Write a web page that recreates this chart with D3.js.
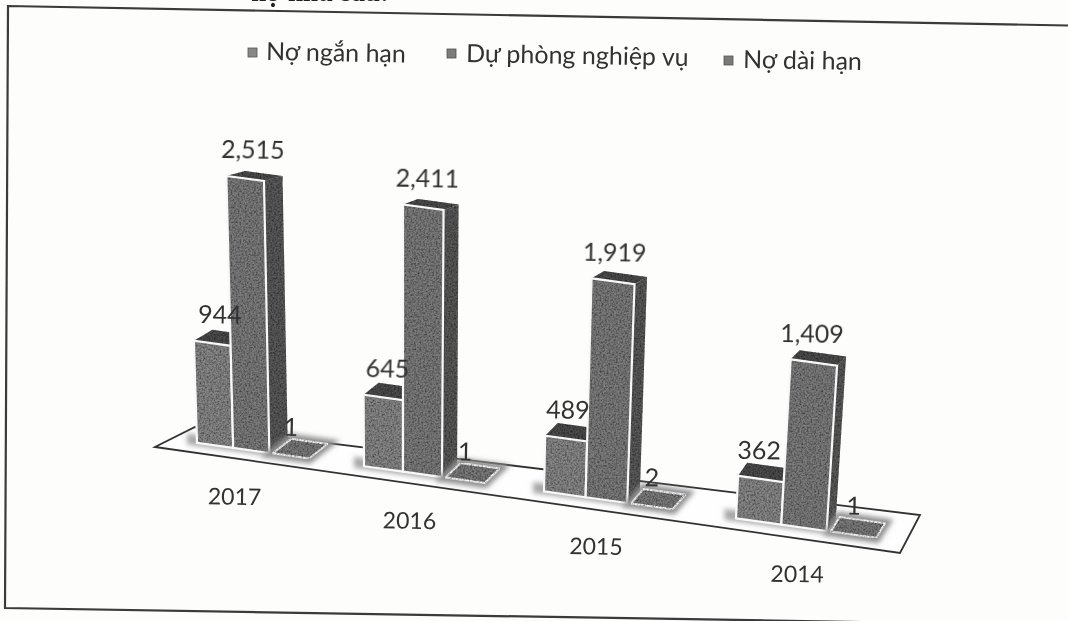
<!DOCTYPE html>
<html lang="vi">
<head>
<meta charset="utf-8">
<title>Nợ</title>
<script src="https://cdn.jsdelivr.net/npm/d3@7"></script>
<style>
  html, body { margin: 0; padding: 0; background: #fdfdfc; overflow: hidden; }
  text { font-family: Lato, "Open Sans", sans-serif; fill: #333; }
</style>
</head>
<body>
<div id="chart"></div>
<script>
// values
const years = ["2017", "2016", "2015", "2014"];
const seriesNames = ["Nợ ngắn hạn", "Dự phòng nghiệp vụ", "Nợ dài hạn"];
const shortTerm = [944, 645, 489, 362];
const reserves = [2515, 2411, 1919, 1409];
const longTerm = [1, 1, 2, 1];
const seriesValues = [shortTerm, reserves, longTerm];
const seriesColors = ["#878787", "#7b7b7b", "#7a7a7a"];

const width = 1068, height = 621;

const svg = d3.select("#chart").append("svg")
    .attr("width", width)
    .attr("height", height);

// ------------------ FILTERS ------------------
const defs = svg.append("defs");

const grain = defs.append("filter").attr("id", "grain")
    .attr("x", "0").attr("y", "0").attr("width", "1").attr("height", "1");
grain.append("feTurbulence").attr("type", "fractalNoise").attr("baseFrequency", 0.55)
    .attr("numOctaves", 2).attr("seed", 4).attr("result", "noise");
grain.append("feColorMatrix").attr("in", "noise").attr("type", "matrix")
    .attr("values", "0 0 0 0 0  0 0 0 0 0  0 0 0 0 0  1.5 0 0 0 -0.5").attr("result", "dark");
grain.append("feComposite").attr("in", "dark").attr("in2", "SourceAlpha")
    .attr("operator", "in").attr("result", "speck");
const grainMerge = grain.append("feMerge");
grainMerge.append("feMergeNode").attr("in", "SourceGraphic");
grainMerge.append("feMergeNode").attr("in", "speck");

defs.append("filter").attr("id", "halo")
    .attr("x", "-30%").attr("y", "-60%").attr("width", "160%").attr("height", "220%")
    .append("feGaussianBlur").attr("stdDeviation", 2.4);

defs.append("filter").attr("id", "soft")
    .append("feGaussianBlur").attr("stdDeviation", 0.5);

// ------------------ SCALES ------------------
// the chart is a 3D column chart photographed at an angle, so x and height
// are piecewise to follow the perspective
const groupIndex = d3.scaleOrdinal().domain(years).range(d3.range(years.length));
const groundX = d3.scaleLinear().domain([0, 1, 2, 3, 4]).range([197, 364, 544, 736, 945]);
const groundY = d3.scaleLinear().domain([198, 873]).range([443, 537.5]);
const barSlot = d3.scaleBand().domain(seriesNames).range([0, 0.65]);
const y = d3.scaleLinear().domain([0, d3.max(reserves)]).range([0, 272]);
const nearness = d3.scaleLinear().domain([0, 1, 2, 3]).range([1, 1.025, 1.055, 1.085]);
const depthX = d3.scaleLinear().domain([0, 1, 2, 3]).range([18.5, 15, 12.5, 9]);
const depthY = d3.scaleLinear().domain([0, d3.max(reserves)]).range([14.5, 5]);
const vanish = [403, 7200];

const closed = d3.line().curve(d3.curveLinearClosed);

function project(g, u, value) {
    const bx = groundX(g + u);
    const by = groundY(bx);
    const h = y(value) * nearness(g);
    return [bx + (bx - vanish[0]) * h / (vanish[1] - by), by - h];
}

function barGeometry(g, name, value, inset) {
    const u0 = barSlot(name) + inset, u1 = u0 + barSlot.bandwidth();
    const dx = depthX(g), dy = depthY(value);
    const a = project(g, u0, 0), b = project(g, u1, 0);
    const c = project(g, u1, value), d = project(g, u0, value);
    const back = p => [p[0] + dx, p[1] - dy];
    return {
        front: [a, b, c, d],
        side: [b, back(b), back(c), c],
        top: [d, c, back(c), back(d)]
    };
}

// ------------------ PAGE FURNITURE ------------------
const chrome = svg.append("g").attr("filter", "url(#soft)");

// clipped line of the document above the chart
chrome.append("text").attr("x", 389).attr("y", 1)
    .attr("text-anchor", "end")
    .style("font-family", "'Liberation Serif', serif")
    .style("font-size", "27px").style("font-weight", 700).style("fill", "#222")
    .text("nợ như sau:");

// frame, only three sides show in the scan
chrome.append("path")
    .attr("d", d3.line()([[1068, 25.5], [8, 6], [5, 608], [862, 622]]))
    .attr("fill", "none").attr("stroke", "#3a3a3a").attr("stroke-width", 2.2);

// legend
const legendItems = [
    { x: 248, y: 48, tx: 266, ty: 60 },
    { x: 447, y: 49, tx: 466, ty: 62 },
    { x: 724, y: 56, tx: 743, ty: 68 }
];
const legend = chrome.selectAll(".legend-item").data(seriesNames).enter()
    .append("g").attr("class", "legend-item");
legend.append("rect")
    .attr("x", (d, i) => legendItems[i].x).attr("y", (d, i) => legendItems[i].y)
    .attr("width", 9).attr("height", 9)
    .attr("fill", (d, i) => seriesColors[i]).attr("stroke", "#555").attr("stroke-width", 0.8);
legend.append("text")
    .attr("transform", (d, i) => `translate(${legendItems[i].tx},${legendItems[i].ty}) rotate(1)`)
    .style("font-size", "25px")
    .text(d => d);

// floor of the chart
const floor = [[155, 447], [900, 553], [920, 515], [195, 427]];
chrome.append("path")
    .attr("d", closed(floor))
    .attr("fill", "#fefefe").attr("stroke", "#333").attr("stroke-width", 1.8);

// ------------------ BARS ------------------
const bars = svg.append("g").attr("filter", "url(#soft)");

years.forEach((year, yi) => {
    const g = groupIndex(year);
    const group = bars.append("g").attr("class", "year-group");

    // grey smear around the foot of the columns
    const foot0 = project(g, -0.06, 0), foot1 = project(g, barSlot.bandwidth() * 2, 0);
    group.append("path")
        .attr("d", closed([[foot0[0], foot0[1] + 3], [foot1[0], foot1[1] + 3], [foot1[0], foot1[1] - 8], [foot0[0], foot0[1] - 8]]))
        .attr("fill", "#a8a8a8").attr("filter", "url(#halo)");

    seriesNames.forEach((name, si) => {
        const value = seriesValues[si][yi];
        const geo = barGeometry(g, name, value, si === 2 ? 0.02 : 0);

        if (si === 2) {
            // the long term debt is so small it is only a flat tile
            group.append("path").attr("d", closed(geo.top))
                .attr("fill", "#909090").attr("stroke", "#909090").attr("stroke-width", 10)
                .attr("filter", "url(#halo)");
            group.append("path").attr("d", closed(geo.top))
                .attr("fill", seriesColors[si]).attr("stroke", "#f4f4f4").attr("stroke-width", 2)
                .attr("filter", "url(#grain)");
            return;
        }

        group.append("path").attr("class", "bar-side").attr("d", closed(geo.side))
            .attr("fill", "#5a5a5a").attr("filter", "url(#grain)");
        group.append("path").attr("class", "bar-top").attr("d", closed(geo.top))
            .attr("fill", "#4e4e4e").attr("filter", "url(#grain)");
        group.append("path").attr("class", "bar-front").attr("d", closed(geo.front))
            .attr("fill", seriesColors[si]).attr("filter", "url(#grain)");
        group.append("path").attr("class", "bar-edge").attr("d", closed(geo.front))
            .attr("fill", "none").attr("stroke", "#f8f8f8").attr("stroke-width", 2.2);
    });
});

// ------------------ LABELS ------------------
const labels = svg.append("g").attr("filter", "url(#soft)");
const valueFormat = d3.format(",");

years.forEach((year, yi) => {
    const g = groupIndex(year);
    seriesNames.forEach((name, si) => {
        const value = seriesValues[si][yi];
        const geo = barGeometry(g, name, value, si === 2 ? 0.02 : 0);
        const cx = (geo.front[2][0] + geo.front[3][0]) / 2;
        const cy = (geo.front[2][1] + geo.front[3][1]) / 2;
        const shift = si === 2 ? 0 : depthX(g) - 11;
        labels.append("text")
            .attr("class", "value-label")
            .attr("transform", `translate(${cx + shift},${cy - 20}) rotate(1)`)
            .attr("text-anchor", "middle")
            .style("font-size", "25px")
            .text(valueFormat(value));
    });

    const gx = groundX(g + 0.335);
    labels.append("text")
        .attr("class", "year-label")
        .attr("transform", `translate(${gx - depthX(g)},${groundY(gx) + 54}) rotate(1)`)
        .attr("text-anchor", "middle")
        .style("font-size", "23px")
        .text(year);
});
</script>
</body>
</html>
